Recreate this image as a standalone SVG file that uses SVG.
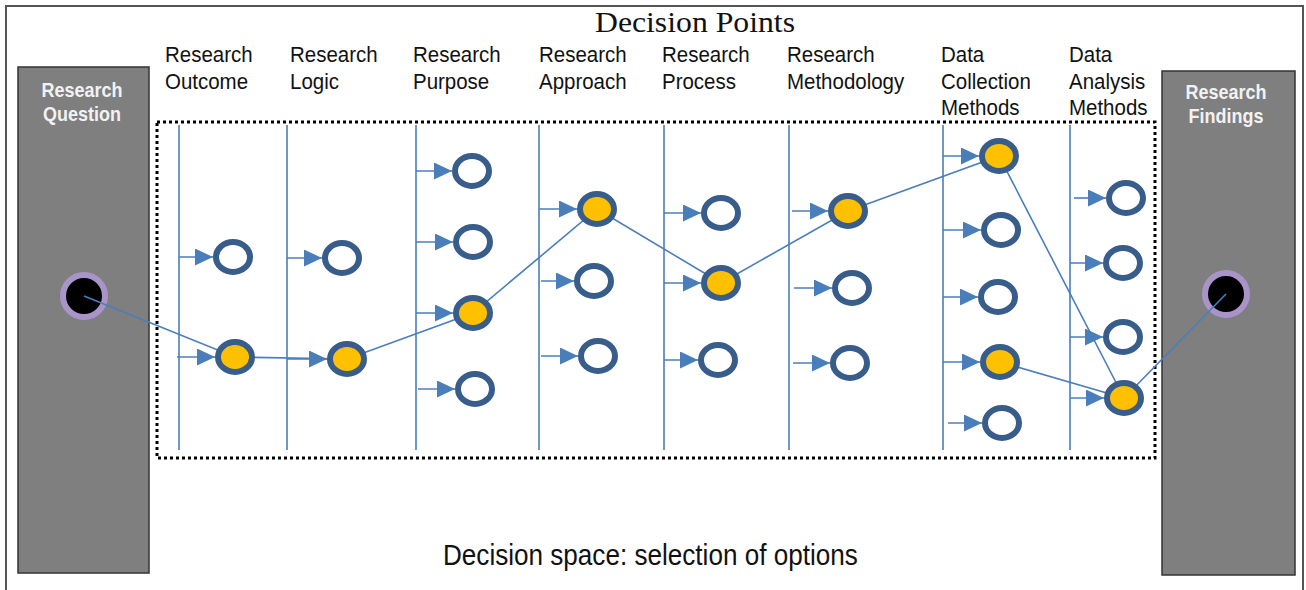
<svg xmlns="http://www.w3.org/2000/svg" width="1306" height="590" viewBox="0 0 1306 590">
<style>
.frame{fill:#fff;stroke:#555;stroke-width:2}
.box{fill:#7f7f7f;stroke:#333;stroke-width:1.5}
.boxt{font-family:"Liberation Sans",Arial,sans-serif;font-weight:bold;font-size:20px;fill:#f2f2f2;text-anchor:middle}
.lbl{font-family:"Liberation Sans",Arial,sans-serif;font-size:22.5px;fill:#111}
.title{font-family:"Liberation Serif","Times New Roman",serif;font-size:29px;fill:#111}
.space{fill:none;stroke:#000;stroke-width:3;stroke-dasharray:3 3}
.vl{stroke:#4a7ebb;stroke-width:1.6;fill:none}
.arr{stroke:#4a7ebb;stroke-width:1.6;fill:none;marker-end:url(#ah)}
.path{stroke:#4a7ebb;stroke-width:1.6;fill:none}
.opt{fill:#fff;stroke:#385d8a;stroke-width:6}
.sel{fill:#ffc000;stroke:#385d8a;stroke-width:6}
.end{fill:#000;stroke:#a894c8;stroke-width:6}
</style>
<defs>
<marker id="ah" viewBox="0 0 18 17" refX="18" refY="8.5" markerWidth="18" markerHeight="17" markerUnits="userSpaceOnUse" orient="auto">
<path d="M0,0 L18,8.5 L0,17 Z" fill="#4a7ebb"/>
</marker>
</defs>
<rect class="frame" x="6" y="6" width="1297" height="600"/>
<text class="title" x="595" y="32" textLength="200" lengthAdjust="spacingAndGlyphs">Decision Points</text>
<g id="labels">
<g transform="translate(165,0) scale(0.91,1)"><text class="lbl" x="0" y="62">Research</text><text class="lbl" x="0" y="89">Outcome</text></g>
<g transform="translate(290,0) scale(0.91,1)"><text class="lbl" x="0" y="62">Research</text><text class="lbl" x="0" y="89">Logic</text></g>
<g transform="translate(413,0) scale(0.91,1)"><text class="lbl" x="0" y="62">Research</text><text class="lbl" x="0" y="89">Purpose</text></g>
<g transform="translate(539,0) scale(0.91,1)"><text class="lbl" x="0" y="62">Research</text><text class="lbl" x="0" y="89">Approach</text></g>
<g transform="translate(662,0) scale(0.91,1)"><text class="lbl" x="0" y="62">Research</text><text class="lbl" x="0" y="89">Process</text></g>
<g transform="translate(787,0) scale(0.91,1)"><text class="lbl" x="0" y="62">Research</text><text class="lbl" x="0" y="89">Methodology</text></g>
<g transform="translate(941,0) scale(0.91,1)"><text class="lbl" x="0" y="62">Data</text><text class="lbl" x="0" y="89">Collection</text><text class="lbl" x="0" y="115">Methods</text></g>
<g transform="translate(1069,0) scale(0.91,1)"><text class="lbl" x="0" y="62">Data</text><text class="lbl" x="0" y="89">Analysis</text><text class="lbl" x="0" y="115">Methods</text></g>
</g>
<g id="research-question">
<rect class="box" x="18" y="67" width="131" height="506"/>
<g transform="translate(82,0) scale(0.9,1)"><text class="boxt" x="0" y="97">Research</text><text class="boxt" x="0" y="121">Question</text></g>
<circle class="end" cx="84" cy="296" r="21"/>
</g>
<g id="research-findings">
<rect class="box" x="1162" y="71" width="133" height="504"/>
<g transform="translate(1226,0) scale(0.9,1)"><text class="boxt" x="0" y="99">Research</text><text class="boxt" x="0" y="123">Findings</text></g>
<circle class="end" cx="1226" cy="294" r="21"/>
</g>
<g id="decision-space">
<rect class="space" x="157" y="122" width="998" height="336"/>
<g transform="translate(443,0) scale(0.9,1)"><text class="lbl" x="0" y="565" style="font-size:29px">Decision space: selection of options</text></g>
</g>
<g id="columns">
<line class="vl" x1="179" y1="125" x2="179" y2="450"/>
<line class="vl" x1="287" y1="125" x2="287" y2="450"/>
<line class="vl" x1="416" y1="125" x2="416" y2="450"/>
<line class="vl" x1="539" y1="125" x2="539" y2="450"/>
<line class="vl" x1="664" y1="125" x2="664" y2="450"/>
<line class="vl" x1="789" y1="125" x2="789" y2="450"/>
<line class="vl" x1="943" y1="125" x2="943" y2="450"/>
<line class="vl" x1="1070" y1="125" x2="1070" y2="450"/>
</g>
<g id="connectors">
<line class="arr" x1="179" y1="257" x2="213" y2="257"/>
<line class="arr" x1="177" y1="357" x2="215" y2="357"/>
<line class="arr" x1="287" y1="258" x2="322" y2="258"/>
<line class="arr" x1="287" y1="359" x2="327" y2="359"/>
<line class="arr" x1="416" y1="171" x2="452" y2="171"/>
<line class="arr" x1="416" y1="242" x2="453" y2="242"/>
<line class="arr" x1="416" y1="313" x2="453" y2="313"/>
<line class="arr" x1="418" y1="389" x2="455" y2="389"/>
<line class="arr" x1="539" y1="209" x2="577" y2="209"/>
<line class="arr" x1="541" y1="281" x2="574" y2="281"/>
<line class="arr" x1="541" y1="356" x2="578" y2="356"/>
<line class="arr" x1="664" y1="213" x2="701" y2="213"/>
<line class="arr" x1="664" y1="283" x2="701" y2="283"/>
<line class="arr" x1="664" y1="360" x2="698" y2="360"/>
<line class="arr" x1="792" y1="211" x2="828" y2="211"/>
<line class="arr" x1="794" y1="288" x2="832" y2="288"/>
<line class="arr" x1="793" y1="363" x2="830" y2="363"/>
<line class="arr" x1="943" y1="156" x2="979" y2="156"/>
<line class="arr" x1="943" y1="230" x2="981" y2="230"/>
<line class="arr" x1="943" y1="297" x2="978" y2="297"/>
<line class="arr" x1="943" y1="362" x2="980" y2="362"/>
<line class="arr" x1="948" y1="423" x2="982" y2="423"/>
<line class="arr" x1="1074" y1="198" x2="1106" y2="198"/>
<line class="arr" x1="1070" y1="263" x2="1103" y2="263"/>
<line class="arr" x1="1070" y1="337" x2="1103" y2="337"/>
<line class="arr" x1="1070" y1="398" x2="1104" y2="398"/>
<polyline class="path" points="84,296 235,357 347,359 473,313 597,209 721,283 848,211 999,156 1124,398"/>
<line class="path" x1="1000" y1="362" x2="1124" y2="398"/>
<line class="path" x1="1124" y1="398" x2="1226" y2="294"/>
</g>
<g id="options">
<ellipse class="opt" cx="233" cy="257" rx="17" ry="15"/>
<ellipse class="sel" cx="235" cy="357" rx="17" ry="15"/>
<ellipse class="opt" cx="342" cy="258" rx="17" ry="15"/>
<ellipse class="sel" cx="347" cy="359" rx="17" ry="15"/>
<ellipse class="opt" cx="472" cy="171" rx="17" ry="15"/>
<ellipse class="opt" cx="473" cy="242" rx="17" ry="15"/>
<ellipse class="sel" cx="473" cy="313" rx="17" ry="15"/>
<ellipse class="opt" cx="475" cy="389" rx="17" ry="15"/>
<ellipse class="sel" cx="597" cy="209" rx="17" ry="15"/>
<ellipse class="opt" cx="594" cy="281" rx="17" ry="15"/>
<ellipse class="opt" cx="598" cy="356" rx="17" ry="15"/>
<ellipse class="opt" cx="721" cy="213" rx="17" ry="15"/>
<ellipse class="sel" cx="721" cy="283" rx="17" ry="15"/>
<ellipse class="opt" cx="718" cy="360" rx="17" ry="15"/>
<ellipse class="sel" cx="848" cy="211" rx="17" ry="15"/>
<ellipse class="opt" cx="852" cy="288" rx="17" ry="15"/>
<ellipse class="opt" cx="850" cy="363" rx="17" ry="15"/>
<ellipse class="sel" cx="999" cy="156" rx="17" ry="15"/>
<ellipse class="opt" cx="1001" cy="230" rx="17" ry="15"/>
<ellipse class="opt" cx="998" cy="297" rx="17" ry="15"/>
<ellipse class="sel" cx="1000" cy="362" rx="17" ry="15"/>
<ellipse class="opt" cx="1002" cy="423" rx="17" ry="15"/>
<ellipse class="opt" cx="1126" cy="198" rx="17" ry="15"/>
<ellipse class="opt" cx="1123" cy="263" rx="17" ry="15"/>
<ellipse class="opt" cx="1123" cy="337" rx="17" ry="15"/>
<ellipse class="sel" cx="1124" cy="398" rx="17" ry="15"/>
</g>
</svg>
